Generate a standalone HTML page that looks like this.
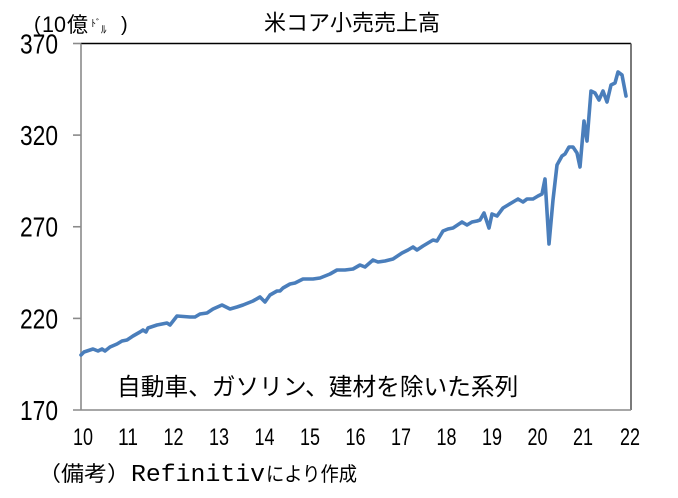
<!DOCTYPE html>
<html>
<head>
<meta charset="utf-8">
<style>
html,body{margin:0;padding:0;background:#fff;}
svg{display:block;}
</style>
</head>
<body>
<svg width="678" height="498" viewBox="0 0 678 498" xmlns="http://www.w3.org/2000/svg">
  <rect x="0" y="0" width="678" height="498" fill="#ffffff"/>

  <!-- Title -->
  <text x="352" y="30.5" text-anchor="middle" font-family="'Liberation Sans','Noto Sans CJK JP',sans-serif" font-size="22" fill="#000">米コア小売売上高</text>

  <!-- Unit label -->
  <g font-family="'Liberation Sans','Noto Sans CJK JP',sans-serif" fill="#000">
    <text x="34" y="31" font-size="20">(</text>
    <text x="42" y="32" font-size="22" textLength="24" lengthAdjust="spacingAndGlyphs">10</text>
    <text x="67" y="32" font-size="21">億</text>
    <text x="91" y="27" font-size="10">ﾄﾞ</text>
    <text x="101" y="33" font-size="11">ﾙ</text>
    <text x="121" y="31" font-size="20">)</text>
  </g>

  <!-- Y tick labels -->
  <g font-family="'Liberation Sans',sans-serif" font-size="28" fill="#000">
    <text x="20" y="53.5" textLength="38" lengthAdjust="spacingAndGlyphs">370</text>
    <text x="20" y="145" textLength="38" lengthAdjust="spacingAndGlyphs">320</text>
    <text x="20" y="236.7" textLength="38" lengthAdjust="spacingAndGlyphs">270</text>
    <text x="20" y="328.4" textLength="38" lengthAdjust="spacingAndGlyphs">220</text>
    <text x="20" y="420" textLength="38" lengthAdjust="spacingAndGlyphs">170</text>
  </g>

  <!-- X tick labels -->
  <g font-family="'Liberation Sans',sans-serif" font-size="24" fill="#000">
    <text x="73" y="445" textLength="20" lengthAdjust="spacingAndGlyphs">10</text>
    <text x="118" y="445" textLength="20" lengthAdjust="spacingAndGlyphs">11</text>
    <text x="163.5" y="445" textLength="20" lengthAdjust="spacingAndGlyphs">12</text>
    <text x="209" y="445" textLength="20" lengthAdjust="spacingAndGlyphs">13</text>
    <text x="254.5" y="445" textLength="20" lengthAdjust="spacingAndGlyphs">14</text>
    <text x="300" y="445" textLength="20" lengthAdjust="spacingAndGlyphs">15</text>
    <text x="345.5" y="445" textLength="20" lengthAdjust="spacingAndGlyphs">16</text>
    <text x="391" y="445" textLength="20" lengthAdjust="spacingAndGlyphs">17</text>
    <text x="436.5" y="445" textLength="20" lengthAdjust="spacingAndGlyphs">18</text>
    <text x="482" y="445" textLength="20" lengthAdjust="spacingAndGlyphs">19</text>
    <text x="527.5" y="445" textLength="20" lengthAdjust="spacingAndGlyphs">20</text>
    <text x="573" y="445" textLength="20" lengthAdjust="spacingAndGlyphs">21</text>
    <text x="620" y="445" textLength="20" lengthAdjust="spacingAndGlyphs">22</text>
  </g>

  <!-- Axes / frame -->
  <line x1="81" y1="43.5" x2="631" y2="43.5" stroke="#000" stroke-width="1.6"/>
  <line x1="631" y1="43.5" x2="631" y2="410" stroke="#595959" stroke-width="1.6"/>
  <line x1="73" y1="410" x2="631" y2="410" stroke="#8a8a8a" stroke-width="1.6"/>
  <line x1="81" y1="43.5" x2="81" y2="410" stroke="#8a8a8a" stroke-width="1.6"/>
  <g stroke="#8a8a8a" stroke-width="1.6">
    <line x1="73" y1="43.5" x2="81" y2="43.5"/>
    <line x1="73" y1="135.1" x2="81" y2="135.1"/>
    <line x1="73" y1="226.75" x2="81" y2="226.75"/>
    <line x1="73" y1="318.4" x2="81" y2="318.4"/>
  </g>

  <!-- Series -->
  <polyline fill="none" stroke="#4a7ebb" stroke-width="3.6" stroke-linejoin="round" stroke-linecap="round"
    points="81,355 84,352 87,351 93,349 98,351 102,349 105,351 110,347 117,344 122,341 127,340 133,336 140,332 143,330 146,332 148,328 157,325 167,323 170,325 177,316 190,317 195,317 200,314 207,313 213,309 222,305 226,307 230,309 237,307 243,305 253,301 260,297 265,302 270,295 277,291 280,291 283,288 290,284 295,283 303,279 313,279 320,278 330,274 337,270 345,270 353,269 360,265 365,267 373,260 378,262 385,261 393,259 402,253 408,250 413,247 417,250 423,246 433,240 437,241 443,231 448,229 453,228 462,222 467,225 472,222 477,221 480,220 484,213 489,228 492,214 497,216 503,208 508,205 513,202 518,199 523,202 527,199 533,199 538,196 542,194 545,179 549,244 553,200 557,165 562,156 565,154 569,147 573,147 577,153 580,167 584,121 587,141 591,91 595,93 599,100 603,91 607,102 611,85 615,83 618,72 622,75 626,96"/>

  <!-- Annotation -->
  <text x="117" y="395" font-family="'Liberation Sans','Noto Sans CJK JP',sans-serif" font-size="23.7" fill="#000">自動車、ガソリン、建材を除いた系列</text>

  <!-- Source -->
  <g font-family="'Liberation Sans','Noto Sans CJK JP',sans-serif" fill="#000">
    <text x="38" y="481" font-size="21" textLength="92" lengthAdjust="spacingAndGlyphs">（備考）</text>
    <text x="131" y="481" font-family="'Liberation Mono',monospace" font-size="24" textLength="134" lengthAdjust="spacingAndGlyphs">Refinitiv</text>
    <text x="266" y="481" font-size="20" textLength="91" lengthAdjust="spacingAndGlyphs">により作成</text>
  </g>
</svg>
</body>
</html>
